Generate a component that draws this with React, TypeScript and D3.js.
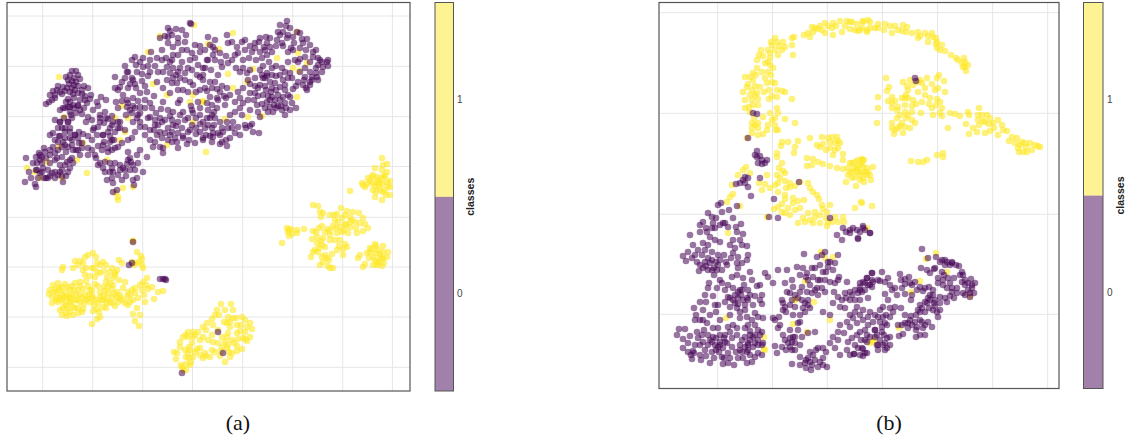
import React from 'react';
import * as d3 from 'd3';

type Pt = [number, number];

// t-SNE embeddings, values (arbitrary units, no axis labels in the original)
const classes = ['0', '1'];

const aGridX = [42.7, 92.7, 142.7, 192.5, 242.7, 292.7, 342.7, 392.4];
const aGridY = [16, 66.3, 116.7, 166.5, 217.3, 267, 317, 367.3];
const bGridX = [717.7, 772.5, 827.3, 882.4, 937.6, 992.7, 1047.7];
const bGridY = [12.7, 113.3, 214.3, 314.3];

const aClass1: Pt[] = [
  [93,253],[96,257],[88,255],[85,257],[80,261],[75,261],[83,263],[63,267],[62,270],[73,268],[78,265],[97,263],[92,268],[83,270],[97,272],[85,275],[90,276],[95,277],[103,262],[106,265],[104,271],[112,268],[117,270],[119,260],[122,263],[107,277],[113,278],[119,280],[125,282],[106,282],[133,241],[137,252],[141,256],[139,262],[142,265],[143,268],[136,263],[147,278],[143,282],[140,285],[152,287],[148,289],[163,291],[158,292],[154,299],[144,295],[145,302],[132,290],[135,293],[128,292],[138,298],[133,300],[128,305],[125,303],[137,308],[133,314],[140,315],[135,321],[139,326],[97,309],[93,311],[100,317],[97,319],[92,324],
  [49,294],[52,297],[58,283],[59,288],[57,293],[62,295],[52,303],[62,300],[68,287],[75,283],[80,282],[67,297],[72,295],[78,290],[83,289],[80,295],[85,295],[90,290],[92,295],[98,286],[100,292],[105,291],[112,289],[117,292],[120,295],[117,298],[112,297],[107,298],[102,300],[98,303],[93,298],[107,303],[115,306],[106,308],[110,302],[65,303],[70,302],[75,300],[80,302],[63,308],[68,308],[73,307],[83,309],[62,315],[67,316],[73,315],[78,313],[82,312],[55,289],[60,298],[65,292],[70,312],[58,302],[88,299],[122,300],[127,297],[123,288],[95,284],[103,296],[86,281],
  [50,290],[54,292],[56,300],[60,290],[64,297],[66,306],[70,298],[74,290],[76,295],[78,308],[82,298],[86,300],[90,302],[94,305],[100,297],[104,300],[108,293],[114,294],[120,298],[118,302],[112,303],[104,287],[108,287],[92,290],[88,286],[80,286],[72,286],[86,268],[94,268],[100,273],[110,272],[115,273],[110,283],[113,285],[115,275],[100,265],[142,259],[134,265],[130,295],[135,288],[142,290],[146,285],[130,302],[60,310],[66,313],[71,302],[75,308],[77,300],[69,296],[84,304],[89,295],[96,300],[65,284],[62,287],[70,290],[57,298],[53,285],[99,312],[103,307],
  [221,304],[231,304],[217,310],[225,310],[233,310],[215,315],[228,317],[242,317],[212,319],[207,323],[203,327],[227,323],[233,318],[245,320],[250,323],[252,329],[245,332],[250,337],[247,341],[237,325],[237,333],[238,339],[230,327],[228,333],[222,337],[225,342],[228,345],[213,342],[208,340],[203,337],[198,332],[193,332],[188,332],[183,337],[188,337],[180,347],[174,352],[177,353],[176,359],[189,347],[197,349],[188,353],[193,357],[191,362],[182,367],[186,370],[205,353],[203,358],[210,357],[215,352],[220,356],[225,362],[230,357],[237,351],[242,349],[227,348],[195,335],[190,350],[206,356],[183,370],[245,339],
  [180,342],[186,335],[193,337],[200,340],[192,343],[185,350],[195,352],[200,355],[186,357],[181,365],[189,358],[212,350],[222,347],[232,353],[218,330],[224,322],[230,322],[236,318],[241,325],[247,327],[240,331],[243,338],[234,343],[219,315],[213,325],[206,330],[212,335],[218,343],[227,337],[232,340],[190,365],[186,364],[229,352],[221,351],[237,346],[200,348],
  [382,158],[387,164],[383,165],[382,170],[375,168],[387,172],[373,175],[368,178],[377,177],[382,178],[362,183],[365,187],[372,183],[377,183],[380,182],[387,182],[390,181],[390,187],[390,195],[385,190],[380,190],[373,190],[375,197],[382,200],[350,191],[379,186],[384,176],[370,181],[363,185],
  [313,205],[318,206],[320,212],[323,213],[321,217],[341,208],[337,214],[347,211],[353,212],[359,213],[350,217],[342,218],[335,220],[363,218],[355,222],[360,223],[365,224],[368,228],[363,231],[357,233],[350,227],[340,227],[333,226],[328,229],[322,226],[319,228],[313,231],[304,229],[297,233],[292,234],[287,228],[288,232],[282,243],[312,239],[317,237],[323,238],[330,235],[337,233],[342,232],[348,233],[317,243],[325,247],[335,240],[345,244],[347,247],[315,250],[337,250],[332,254],[311,257],[322,257],[327,258],[343,255],[323,262],[328,266],[333,268],[291,229],[289,236],[338,222],[345,224],[330,231],[319,248],
  [375,244],[383,246],[370,248],[378,250],[383,252],[367,253],[360,255],[358,258],[373,257],[380,257],[387,257],[377,262],[384,263],[365,264],[363,267],[377,265],[376,253],[372,249],[382,259],
  [330,215],[345,215],[352,220],[344,230],[336,228],[330,240],[322,245],[318,252],[316,232],[340,240],[346,225],[325,232],[334,215],[350,222],[356,228],[372,177],[378,180],[385,176],[382,184],[375,186],[367,184],[388,186],[386,195],[383,192],[376,192],[370,252],[376,246],[380,254],[375,260],[369,258],[383,258],[373,265],[382,266],[388,252],[379,263],[297,230],[289,230],[325,255],[329,260],[320,265],[330,268],[343,249],[339,246],[313,252],[321,241],
  // stray points inside the class 0 group
  [59,77],[64,117],[83,143],[59,147],[47,162],[77,160],[27,168],[87,173],[107,160],[118,197],[123,188],[133,187],[125,132],[120,140],[115,118],[128,118],[122,106],[148,52],[153,84],[167,95],[160,36],[194,25],[193,95],[190,102],[203,102],[206,152],[167,145],[193,122],[62,178],[35,172],[40,178],[233,33],[208,44],[219,49],[297,32],[277,58],[298,53],[307,63],[293,68],[299,71],[253,69],[228,74],[233,88],[203,101],[247,82],[297,97],[225,119],[248,117],[262,116],[133,241],[132,262],[118,200],[116,193],
];

const aClass0: Pt[] = [
  [72,71],[76,71],[70,75],[78,75],[66,77],[74,78],[80,79],[72,81],[76,82],[69,84],[74,85],[78,86],[67,88],[84,86],[88,88],[53,91],[57,90],[60,92],[55,95],[62,94],[65,91],[70,92],[73,94],[78,93],[82,94],[85,96],[91,95],[46,104],[49,102],[52,100],[55,98],[68,99],[74,98],[80,100],[87,103],[90,99],[63,108],[68,107],[73,105],[78,106],[84,108],[70,112],[76,113],[82,114],[88,117],[92,120],[86,122],[97,102],[101,97],[106,100],[98,106],[105,112],[100,115],[93,110],[116,102],[106,118],[60,122],[64,118],[62,128],[68,122],[72,118],[70,128],[65,132],[75,135],[79,132],[83,134],[70,138],[60,136],[53,133],[79,143],[82,143],[88,136],[93,130],[98,127],[104,123],[108,119],[112,116],[118,122],[112,125],[120,128],[115,132],[125,130],[110,136],[103,135],[97,135],[92,140],[88,148],[98,146],[104,142],[110,142],[114,140],[108,152],[112,150],[118,147],[122,143],[128,140],
  [26,158],[25,182],[29,172],[31,178],[35,184],[36,187],[36,157],[39,153],[37,163],[42,163],[43,168],[40,173],[44,178],[48,178],[52,173],[55,172],[58,175],[63,182],[62,170],[50,150],[45,152],[53,147],[55,153],[57,158],[62,157],[67,162],[70,160],[73,163],[68,172],[65,165],[59,136],[63,142],[68,147],[73,150],[80,155],[75,135],[70,132],[65,128],[60,122],[68,122],[71,115],[65,108],[70,107],[78,105],[46,158],[50,163],[40,160],[48,170],[60,165],[58,150],[66,152],[62,176],[72,140],
  [115,77],[125,66],[135,57],[143,58],[136,65],[143,67],[155,66],[157,58],[151,52],[162,50],[166,58],[168,28],[176,29],[182,30],[191,24],[160,38],[168,37],[172,35],[178,38],[186,35],[168,43],[173,47],[178,43],[185,42],[187,50],[178,55],[173,55],[192,53],[195,58],[182,62],[173,68],[167,67],[198,65],[207,60],[203,68],[185,73],[173,78],[167,80],[177,83],[197,75],[203,80],[185,80],[178,90],[154,96],[137,72],[125,78],[132,78],[120,87],[115,88],[128,88],[123,95],[133,98],[140,93],[147,92],[180,100],[178,103],[191,106],[198,102],[207,103],[193,113],[200,115],[203,122],[192,110],[183,112],[180,115],[173,112],[170,31],[190,23],[165,36],[182,50],[170,62],[158,72],[148,76],[142,81],[130,84],[136,88],[128,72],[133,80],[195,45],[200,52],[190,60],[176,75],[180,78],[172,83],[193,85],[200,90],[188,92],
  [100,118],[113,122],[120,122],[118,128],[103,135],[112,140],[108,148],[115,148],[100,163],[110,163],[115,163],[103,168],[110,172],[107,180],[113,183],[113,192],[117,190],[122,180],[125,170],[130,158],[137,155],[143,172],[135,170],[133,180],[134,185],[147,157],[140,150],[128,152],[132,138],[135,132],[133,122],[140,122],[145,127],[132,113],[135,108],[127,107],[140,107],[152,108],[150,117],[161,109],[155,125],[160,132],[157,135],[165,133],[172,132],[175,138],[182,128],[192,125],[188,132],[200,132],[203,138],[195,143],[187,144],[177,142],[160,147],[163,148],[153,147],[163,153],[145,100],[130,110],[138,115],[126,115],[137,118],[123,168],[131,162],[127,164],[113,172],[105,162],[154,130],[158,125],[162,122],[168,128],[170,135],
  [287,21],[280,25],[286,26],[278,32],[283,32],[288,35],[297,32],[300,33],[277,40],[282,43],[287,38],[294,43],[302,39],[307,39],[288,52],[293,50],[300,48],[303,43],[270,38],[259,42],[255,43],[267,43],[270,47],[265,50],[260,52],[272,52],[267,55],[313,52],[318,58],[328,66],[323,67],[327,62],[318,65],[313,57],[310,62],[305,57],[300,59],[305,68],[322,72],[317,77],[312,77],[305,77],[310,85],[307,90],[303,85],[288,62],[269,62],[263,66],[272,68],[267,73],[272,75],[280,75],[290,73],[288,78],[255,78],[263,78],[265,86],[275,83],[280,87],[285,90],[293,89],[263,95],[272,97],[278,95],[290,97],[267,102],[275,100],[285,103],[292,103],[270,107],[273,112],[285,115],[296,108],[257,105],[250,93],[255,93],[255,86],[248,80],[247,73],[243,68],[249,58],[243,60],[242,42],[245,50],[238,53],[235,55],[237,47],[232,42],[227,35],[228,43],[208,37],[215,40],[213,47],[213,55],[208,60],[215,60],[228,63],[222,67],[203,75],[210,82],[215,82],[222,86],[227,88],[217,89],[207,91],[210,97],[217,98],[235,102],[240,98],[243,103],[225,105],[212,105],[217,108],[242,115],[250,110],[260,117],[207,118],[212,115],[220,122],[227,122],[233,122],[238,127],[250,126],[253,132],[259,133],[223,132],[218,133],[213,133],[205,128],[230,138],[235,133],[212,142],[220,144],[227,146],[203,140],[267,76],[271,92],[274,105],[278,106],[268,96],[320,60],[316,68],[310,82],[304,80],[264,47],[291,48],[205,68],[211,70],[221,62],[218,75],[200,77],[208,110],[214,125],[220,135],[245,125],
  [150,60],[148,66],[140,62],[132,60],[127,72],[122,82],[118,90],[135,84],[142,74],[150,72],[145,86],[138,101],[127,100],[122,101],[118,108],[128,103],[133,106],[140,113],[145,108],[150,103],[156,113],[163,102],[168,110],[160,118],[165,120],[172,120],[176,126],[170,116],[185,120],[178,122],[188,118],[196,118],[200,124],[208,125],[212,128],[206,135],[213,137],[196,134],[189,140],[183,136],[178,133],[173,125],
  [162,60],[172,60],[180,68],[188,68],[192,70],[178,72],[170,73],[163,72],[157,82],[163,88],[170,93],[183,90],[190,82],[196,92],[205,88],[212,88],[220,92],[224,96],[230,95],[238,92],[243,88],[218,100],[226,98],[214,112],[200,108],[235,112],[230,115],[240,108],[248,100],[254,100],[258,96],[262,104],[258,112],[265,108],[268,112],[276,108],[282,110],[280,100],[272,88],[258,88],[250,84],[240,72],[236,68],[232,60],[226,56],[220,53],[215,50],[205,50],[200,46],[210,45],[245,40],[250,46],[252,52],[256,60],[260,70],[250,70],[276,66],[282,68],[285,72],[292,78],[296,86],[300,72],[298,62],[295,60],[306,50],[310,45],[316,50],[322,62],[328,60],[316,73],[310,72],[298,82],[306,88],[312,80],[318,80],[280,35],[290,28],[293,37],[283,46],[276,46],[266,37],[260,38],[255,48],[262,58],
  [50,95],[58,86],[63,87],[68,80],[72,88],[75,90],[82,90],[85,100],[80,110],[74,108],[70,102],[66,102],[60,110],[55,120],[58,128],[55,140],[50,135],[58,142],[65,138],[72,145],[76,150],[82,148],[88,155],[92,150],[96,158],[102,150],[94,128],[100,122],[110,128],[108,132],[103,145],[95,155],[98,165],[105,172],[112,178],[118,175],[112,168],[120,165],[128,160],[133,165],[138,163],[130,170],[137,178],[126,176],[120,170],[36,170],[42,172],[46,178],[38,178],[50,176],[55,178],[60,172],[66,176],[70,168],[72,158],[78,150],[78,138],[65,145],[55,160],[50,155],[44,148],[40,155],[37,170],[33,163],[42,157],[62,147],
  [140,127],[148,118],[155,120],[150,130],[145,135],[150,140],[155,142],[162,138],[168,140],[172,142],[178,148],[183,138],[190,130],[196,128],[210,118],[215,118],[222,128],[228,128],[232,128],[240,135],[246,128],[252,124],[226,140],[222,142],[210,136],[265,78],[270,82],[276,76],[283,80],[285,85],[260,85],[262,75],[266,90],[276,90],[283,97],[270,100],[288,95],[281,106],[286,108],[290,110],
  [133,242],[132,263],[129,265],[160,279],[163,279],[166,280],[165,279],
  [218,332],[223,353],[182,373],
];

const bClass1: Pt[] = [
  [775,38],[777,42],[772,45],[783,42],[768,50],[775,50],[782,50],[785,47],[792,38],[794,37],[792,45],[793,55],[761,50],[759,55],[757,60],[770,58],[778,55],[765,63],[770,65],[757,68],[753,73],[768,72],[771,75],[745,77],[753,80],[767,83],[775,83],[747,87],[755,86],[760,87],[743,92],[769,90],[777,90],[782,91],[785,92],[750,95],[755,95],[777,97],[769,99],[792,99],[752,100],[758,99],[753,105],[749,107],[745,108],[777,108],[770,113],[778,113],[763,117],[775,118],[785,119],[795,123],[775,125],[752,123],[758,123],[767,130],[752,128],[758,128],[778,130],[752,133],[763,134],[747,138],[782,142],[788,142],[798,141],[781,146],[795,147],[777,153],[794,153],[777,157],
  [810,138],[822,137],[832,137],[837,137],[817,145],[823,144],[830,142],[835,143],[840,143],[830,148],[838,148],[843,154],[833,155],[807,158],[813,159],[818,162],[823,164],[807,166],[830,166],[837,168],[843,169],[850,163],[848,168],[855,162],[862,160],[857,167],[863,167],[853,172],[858,172],[865,172],[855,177],[863,178],[846,182],
  [782,163],[779,168],[783,171],[785,173],[767,175],[777,175],[778,183],[785,181],[759,183],[765,184],[790,183],[770,188],[778,192],[795,186],[808,183],[810,188],[813,192],[817,195],[819,199],[793,198],[798,201],[804,200],[785,199],[782,204],[778,207],[774,209],[788,208],[795,210],[785,213],[767,217],[830,205],[861,202],[823,209],[815,212],[820,215],[827,212],[835,217],[815,217],[798,223],[805,222],[813,223],[820,223],[827,226],[843,217],[730,197],[733,194],[727,202],[740,206],[732,185],[738,175],[743,170],[746,167],[750,173],
  [804,35],[808,33],[812,27],[815,28],[813,32],[820,26],[825,23],[825,33],[833,23],[832,28],[840,21],[847,21],[850,22],[857,24],[842,32],[833,35],[850,29],[858,31],[863,22],[868,20],[867,30],[810,37],[852,22],[863,21],[870,22],[878,24],[885,24],[860,30],[867,32],[875,28],[890,26],[895,26],[903,25],[907,27],[892,33],[902,31],[912,33],[918,32],[925,33],[918,38],[932,33],[933,37],[928,42],[937,42],[942,45],[937,48],[945,51],[951,55],[956,58],[964,58],[962,63],[968,65],[965,67],[966,71],
  [886,78],[889,87],[887,91],[903,82],[907,86],[908,90],[913,85],[922,83],[927,78],[932,84],[937,78],[939,75],[944,81],[938,88],[918,92],[925,95],[930,98],[937,99],[878,97],[888,101],[895,101],[902,98],[913,100],[905,105],[912,106],[922,102],[929,104],[936,105],[942,108],[878,108],[892,108],[897,110],[905,112],[912,112],[921,113],[933,115],[942,116],[950,113],[955,114],[960,116],[968,112],[969,115],[979,108],[982,115],[987,115],[978,120],[983,121],[966,124],[993,123],[998,120],[1002,125],[877,123],[892,123],[897,118],[902,123],[912,120],[915,123],[898,128],[910,128],[894,134],[903,133],[948,128],[973,128],[977,132],[969,134],[985,133],[990,131],[998,135],[1007,131],[1012,137],[1009,141],[1015,143],[1022,142],[1030,143],[1018,148],[1023,152],[1032,150],[1038,146],[1040,147],
  [911,161],[918,162],[923,162],[927,160],[937,155],[943,153],[943,157],[862,159],[862,163],[852,163],[873,167],[867,168],[857,170],[862,172],[867,175],[871,180],[860,180],[856,186],[862,203],[855,208],[872,206],
  [771,42],[779,46],[770,53],[763,56],[768,62],[773,68],[762,72],[756,75],[750,77],[748,84],[752,90],[757,93],[765,78],[772,82],[764,92],[772,96],[758,105],[750,112],[745,100],[754,118],[772,120],[768,125],[776,130],[758,135],[755,125],[818,29],[822,30],[828,26],[836,26],[845,26],[855,30],[862,28],[870,28],[878,28],[884,30],[898,30],[906,32],[920,36],[928,36],[936,38],[940,50],[936,44],[958,60],[965,62],[963,67],
  [838,141],[843,160],[854,168],[860,165],[850,172],[860,175],[864,160],[868,172],[858,160],[852,178],[864,182],[870,175],[848,175],[835,150],[828,138],[826,150],[820,147],[812,165],[800,182],[790,187],[786,188],[780,178],[775,185],[762,190],[785,195],[793,203],[800,208],[790,215],[782,212],[826,218],[822,205],[828,222],[810,220],[803,218],[808,213],[832,222],[838,222],[844,222],[892,97],[908,98],[916,104],[905,98],[898,107],[892,103],[918,82],[925,88],[920,80],[910,80],[906,95],[935,90],[945,92],[940,102],[932,108],[940,113],[892,128],[900,115],[895,130],[906,118],[900,126],[908,115],[905,127],[985,122],[979,125],[989,124],[978,115],[994,128],[990,118],[1003,130],[1017,138],[1026,147],[1019,152],[1035,145],[1025,143],[1027,152],[1020,145],
  // stray points inside the class 0 group
  [728,233],[726,318],[764,337],[764,349],[796,299],[805,281],[814,302],[793,324],[807,332],[830,320],[874,340],[821,252],[833,257],[825,258],[867,228],[936,253],[926,259],[947,272],[920,281],[911,292],[899,328],[873,342],[970,296],[870,343],[765,350],[795,300],
];

const bClass0: Pt[] = [
  [915,78],[916,81],[753,113],[757,114],[748,138],[757,151],[757,157],[762,160],[765,163],[758,163],[767,160],[760,178],[799,182],[774,199],[778,218],[769,217],[830,218],[745,177],[748,178],[740,183],[736,184],[748,187],[751,196],[721,203],[718,205],[737,206],[755,155],[760,156],[762,164],[743,180],[745,183],
  [708,213],[712,217],[722,212],[729,210],[703,222],[713,223],[725,223],[733,218],[741,224],[736,227],[690,235],[707,232],[710,237],[720,242],[703,243],[693,245],[688,252],[683,256],[686,261],[692,258],[697,262],[702,255],[705,262],[710,263],[708,270],[699,271],[718,255],[718,265],[717,270],[727,265],[720,280],[723,223],[728,227],[715,228],[737,232],[743,234],[740,240],[733,240],[735,248],[747,246],[733,253],[738,257],[747,260],[737,263],[742,263],[750,272],[737,275],[732,277],[743,278],[709,283],[708,288],[717,288],[705,295],[700,302],[713,296],[718,305],[703,310],[694,308],[696,315],[695,320],[700,320],[707,323],[713,328],[720,320],[728,297],[733,300],[738,298],[733,288],[740,290],[748,290],[757,286],[743,300],[750,295],[755,296],[762,295],[762,304],[730,307],[737,308],[745,305],[740,312],[755,313],[758,317],[763,318],[752,320],[747,317],[740,318],[733,325],[728,327],[762,332],[750,331],[708,258],[712,260],[706,266],[714,268],[720,225],[716,218],[712,228],[741,295],[735,303],[738,292],[747,298],
  [679,329],[685,329],[677,335],[683,339],[697,332],[698,338],[688,343],[683,348],[703,342],[693,351],[691,355],[692,359],[701,360],[710,363],[708,345],[713,337],[720,335],[718,347],[723,348],[712,352],[732,338],[732,347],[722,357],[728,353],[723,364],[728,363],[734,365],[738,358],[743,358],[747,352],[740,350],[748,343],[745,337],[753,337],[758,340],[762,345],[753,347],[758,353],[752,362],[755,357],[762,355],[747,363],[700,345],[705,350],[715,345],[720,342],[725,342],[750,340],[755,343],[748,350],[694,353],[716,350],[719,352],
  [773,318],[779,317],[778,328],[783,303],[782,300],[785,307],[787,292],[793,287],[795,295],[792,300],[802,300],[805,303],[810,308],[805,312],[800,315],[793,315],[798,323],[807,292],[802,287],[812,293],[817,288],[822,288],[825,292],[808,280],[813,277],[818,280],[768,277],[765,273],[773,283],[778,270],[787,270],[797,267],[803,268],[807,273],[815,268],[823,272],[828,267],[828,262],[838,255],[804,254],[817,257],[822,255],[825,252],[835,263],[830,282],[835,283],[847,282],[839,277],[833,303],[838,297],[842,300],[845,308],[823,312],[830,315],[850,292],[855,290],[852,295],[860,300],[857,307],[850,315],[853,318],[847,322],[840,325],[838,332],[850,327],[857,323],[863,320],[868,298],[860,283],[867,278],[872,273],[873,282],[863,282],[868,317],[875,330],[860,332],[867,335],[867,342],[877,345],[862,348],[854,354],[847,350],[840,355],[865,353],[833,337],[830,343],[823,348],[818,348],[823,358],[827,367],[818,367],[813,355],[810,362],[811,370],[805,363],[800,357],[800,365],[792,364],[783,335],[790,338],[795,337],[795,343],[802,337],[808,333],[815,332],[775,346],[782,347],[777,353],[790,347],[793,337],[792,342],[806,360],[810,352],[803,308],[808,300],[860,290],[870,285],[865,290],
  [872,273],[882,272],[867,278],[872,280],[865,283],[860,287],[880,281],[885,282],[890,285],[885,294],[895,288],[900,274],[905,279],[909,277],[915,282],[920,287],[912,285],[902,288],[905,294],[912,295],[911,300],[923,291],[929,287],[938,278],[943,280],[948,278],[954,278],[938,283],[947,288],[952,292],[957,293],[933,295],[928,298],[940,297],[950,296],[947,302],[954,298],[927,303],[922,308],[918,310],[933,310],[940,310],[938,317],[925,312],[911,316],[915,322],[922,322],[928,322],[932,327],[905,323],[908,328],[917,327],[923,328],[898,325],[903,334],[899,336],[916,337],[920,335],[925,335],[883,307],[890,308],[895,307],[901,308],[878,317],[883,317],[890,317],[875,330],[882,327],[882,332],[890,337],[887,338],[887,348],[883,345],[878,345],[870,337],[865,340],[858,348],[863,349],[854,354],[867,353],[863,356],
  [922,249],[928,258],[936,257],[942,260],[947,262],[952,263],[959,266],[921,268],[927,270],[934,269],[942,272],[962,272],[963,275],[962,282],[965,285],[971,279],[975,283],[972,285],[963,293],[970,293],[974,293],[970,297],[945,260],[950,265],[940,262],[968,283],[930,300],[934,303],[920,312],
  [858,239],[850,233],[857,230],[863,226],[870,233],[853,228],[865,230],[837,235],[843,228],[850,230],[858,238],[870,233],[863,228],[842,240],[846,232],[860,232],
  [700,225],[706,228],[700,232],[715,240],[708,245],[698,250],[695,255],[705,250],[712,252],[720,260],[724,255],[726,262],[716,262],[700,265],[703,268],[712,270],[722,270],[714,275],[730,245],[742,245],[731,258],[748,255],[738,268],[722,283],[725,290],[728,285],[744,285],[752,280],[742,290],[735,295],[738,304],[730,298],[725,302],[730,315],[745,310],[748,300],[753,305],[760,285],[760,300],[715,305],[706,302],[703,320],[710,315],[716,312],[704,330],[708,335],[718,328],[725,335],[730,332],[737,335],[742,340],[750,335],[737,328],[745,328],[755,325],[748,325],[690,336],[695,345],[688,352],[700,355],[706,356],[714,358],[702,335],[710,340],[716,338],[724,338],[727,343],[712,342],[720,345],[740,345],[745,347],[750,355],[760,335],[758,330],[763,343],[755,335],[748,345],[758,345],[742,352],[736,352],[730,358],[724,358],
  [775,320],[780,325],[783,310],[786,312],[790,305],[795,307],[798,298],[800,292],[808,305],[800,322],[798,330],[790,330],[785,340],[788,343],[795,350],[800,345],[786,350],[792,350],[815,290],[818,295],[810,285],[820,280],[825,280],[812,268],[820,265],[806,277],[800,275],[792,280],[785,283],[790,293],[830,262],[826,272],[833,270],[808,358],[815,360],[820,362],[826,352],[816,350],[812,365],[806,368],[823,365],[838,280],[834,292],[845,293],[840,307],[850,300],[855,300],[846,298],[858,293],[862,292],[868,285],[872,287],[878,280],[855,312],[860,315],[863,310],[870,312],[875,315],[880,322],[885,323],[873,322],[868,325],[865,330],[857,335],[852,338],[848,342],[855,345],[861,340],[875,337],[880,340],[885,343],[878,350],[860,355],[850,355],[844,333],[838,340],[835,348],
  [888,278],[892,290],[897,295],[901,280],[905,284],[910,283],[917,290],[925,288],[930,295],[935,300],[940,303],[945,298],[952,288],[957,288],[944,275],[950,283],[943,285],[933,290],[929,308],[935,306],[925,302],[920,305],[937,312],[916,315],[920,320],[908,323],[912,325],[916,330],[925,325],[905,315],[910,320],[902,325],[952,262],[956,265],[945,265],[935,268],[930,273],[960,275],[965,280],[968,290],[965,295],[972,288],[888,300],[893,312],[886,315],[880,310],[887,325],[884,335],[877,335],[890,345],[885,350],
];

const classColor = d3.scaleOrdinal<string, string>().domain(classes).range(['#440154', '#fde725']);

const BORDER = '#555555';
const GRID = '#e6e6e6';

const Panel: React.FC<{
  box: [number, number, number, number];
  bar: [number, number];
  gridX: number[];
  gridY: number[];
  class0: Pt[];
  class1: Pt[];
  caption: string;
  captionX: number;
  labelX: number;
  titleX: number;
}> = ({ box, bar, gridX, gridY, class0, class1, caption, captionX, labelX, titleX }) => {
  const [left, top, right, bottom] = box;
  const x = d3.scaleLinear().domain([left, right]).range([left, right]);
  const y = d3.scaleLinear().domain([top, bottom]).range([top, bottom]);
  // colour bar: one equal band per class, class 1 on top
  const band = d3.scaleBand<string>().domain([...classes].reverse()).range([top, bottom]);

  return (
    <g>
      {gridX.map(v => (
        <line key={'x' + v} x1={x(v)} x2={x(v)} y1={top} y2={bottom} stroke={GRID} strokeWidth={1} />
      ))}
      {gridY.map(v => (
        <line key={'y' + v} x1={left} x2={right} y1={y(v)} y2={y(v)} stroke={GRID} strokeWidth={1} />
      ))}
      {class1.map((d, i) => (
        <circle key={'c1' + i} cx={x(d[0])} cy={y(d[1])} r={3.3} fill={classColor('1')} opacity={0.6} />
      ))}
      {class0.map((d, i) => (
        <circle key={'c0' + i} cx={x(d[0])} cy={y(d[1])} r={3.3} fill={classColor('0')} opacity={0.55} />
      ))}
      <rect x={left} y={top} width={right - left} height={bottom - top} fill="none" stroke={BORDER} strokeWidth={1.2} />

      {classes.map(c => (
        <g key={c}>
          <rect x={bar[0]} width={bar[1] - bar[0]} y={band(c)} height={band.bandwidth()} fill={classColor(c)} opacity={0.5} />
          <text x={labelX} y={band(c)! + band.bandwidth() / 2 + 3.5} fontSize={10} fontFamily="Liberation Sans" fill="#444">
            {c}
          </text>
        </g>
      ))}
      <rect x={bar[0]} y={top} width={bar[1] - bar[0]} height={bottom - top} fill="none" stroke={BORDER} strokeWidth={1} />
      <text
        transform={`translate(${titleX},${(top + bottom) / 2}) rotate(-90)`}
        textAnchor="middle"
        fontSize={10.5}
        fontWeight="bold"
        fontFamily="Liberation Sans"
        fill="#222"
      >
        classes
      </text>
      <text x={captionX} y={430} textAnchor="middle" fontSize={22} fontFamily="Liberation Serif" fill="#111">
        {caption}
      </text>
    </g>
  );
};

export default function App() {
  return (
    <svg width={1127} height={441} style={{ position: 'absolute', left: 0, top: 0, background: '#fff' }}>
      <Panel
        box={[7, 2.5, 410, 391]}
        bar={[435, 453.5]}
        gridX={aGridX}
        gridY={aGridY}
        class0={aClass0}
        class1={aClass1}
        caption="(a)"
        captionX={238}
        labelX={457}
        titleX={474}
      />
      <Panel
        box={[659, 2.5, 1059, 388.5]}
        bar={[1083.5, 1103]}
        gridX={bGridX}
        gridY={bGridY}
        class0={bClass0}
        class1={bClass1}
        caption="(b)"
        captionX={889}
        labelX={1107}
        titleX={1124}
      />
    </svg>
  );
}
